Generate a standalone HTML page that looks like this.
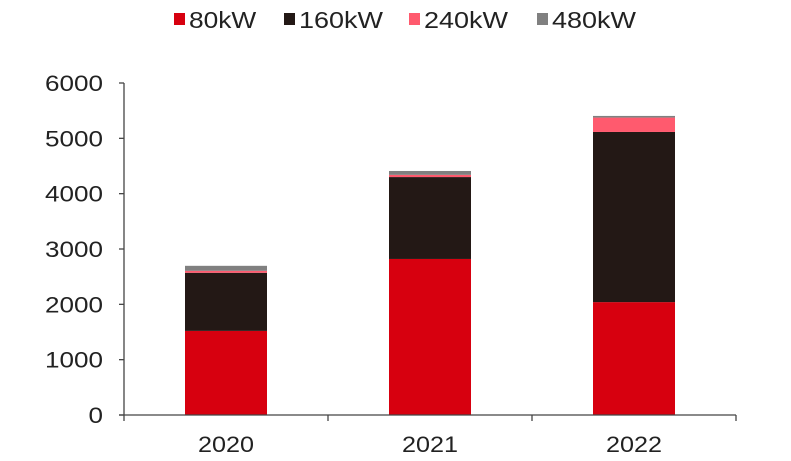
<!DOCTYPE html>
<html><head><meta charset="utf-8"><style>
body{margin:0;background:#fff;}
svg{display:block;font-family:"Liberation Sans",Arial,sans-serif;}
</style></head><body>
<svg id="chart" width="791" height="461" viewBox="0 0 791 461"></svg>
<script>
const categories = ["2020","2021","2022"];
const seriesNames = ["80kW","160kW","240kW","480kW"];
const s80 = [1520, 2820, 2040];
const s160 = [1050, 1480, 3075];
const s240 = [36, 40, 260];
const s480 = [90, 70, 30];
const yTicks = [0,1000,2000,3000,4000,5000,6000];
const colors = ["#d7000f","#231815","#ff5a6e","#808080"];

const NS="http://www.w3.org/2000/svg";
const svg=document.getElementById('chart');
const x0=124, x1=736, y0=415, yTop=83, yMax=6000;
const bw=82;
function yS(v){return y0-(v/yMax)*(y0-yTop);}
function xC(i){return x0+(x1-x0)/categories.length*(i+0.5);}
function mk(tag,attrs){const e=document.createElementNS(NS,tag);for(const k in attrs)e.setAttribute(k,attrs[k]);svg.appendChild(e);return e;}

const series=[s80,s160,s240,s480];
categories.forEach((c,i)=>{
  let base=0;
  series.forEach((s,j)=>{
    const v=s[i];
    const r=mk('rect',{x:xC(i)-bw/2,y:yS(base+v),width:bw,height:yS(base)-yS(base+v),fill:colors[j]});
    
    
    base+=v;
  });
});

const ya=mk('line',{x1:x0,y1:yTop,x2:x0,y2:y0,stroke:'#444','stroke-width':1.3});


const xa=mk('line',{x1:x0-5,y1:y0,x2:x1,y2:y0,stroke:'#444','stroke-width':1.3});


yTicks.forEach(t=>{
  const tk=mk('line',{x1:x0-5,y1:yS(t),x2:x0,y2:yS(t),stroke:'#444','stroke-width':1.3});
  
  
  const len=String(t).length*14.5;
  const tx=mk('text',{x:103-len,y:yS(t)+8,'font-size':22,fill:'#222',textLength:len,lengthAdjust:'spacingAndGlyphs'});
  tx.textContent=t;
  
  
});
for(let i=0;i<=categories.length;i++){
  const xx=x0+(x1-x0)/categories.length*i;
  const tk=mk('line',{x1:xx,y1:y0,x2:xx,y2:y0+6,stroke:'#444','stroke-width':1.3});
  
  
}
categories.forEach((c,i)=>{
  const tx=mk('text',{x:xC(i)-28,y:452,'font-size':22,fill:'#222',textLength:56,lengthAdjust:'spacingAndGlyphs'});
  tx.textContent=c;
  
  
});

const legX=[174,284,409,537];
seriesNames.forEach((n,j)=>{
  const g=mk('g',{});
  
  
  const r=document.createElementNS(NS,'rect');
  r.setAttribute('x',legX[j]);r.setAttribute('y',13);r.setAttribute('width',11);r.setAttribute('height',12);r.setAttribute('fill',colors[j]);
  
  
  g.appendChild(r);
  const t=document.createElementNS(NS,'text');
  t.setAttribute('x',legX[j]+15);t.setAttribute('y',28);t.setAttribute('font-size',23);t.setAttribute('fill','#222');
  t.setAttribute('textLength', n.length*16.8);t.setAttribute('lengthAdjust','spacingAndGlyphs');
  t.textContent=n;
  
  
  g.appendChild(t);
});
</script>
</body></html>
